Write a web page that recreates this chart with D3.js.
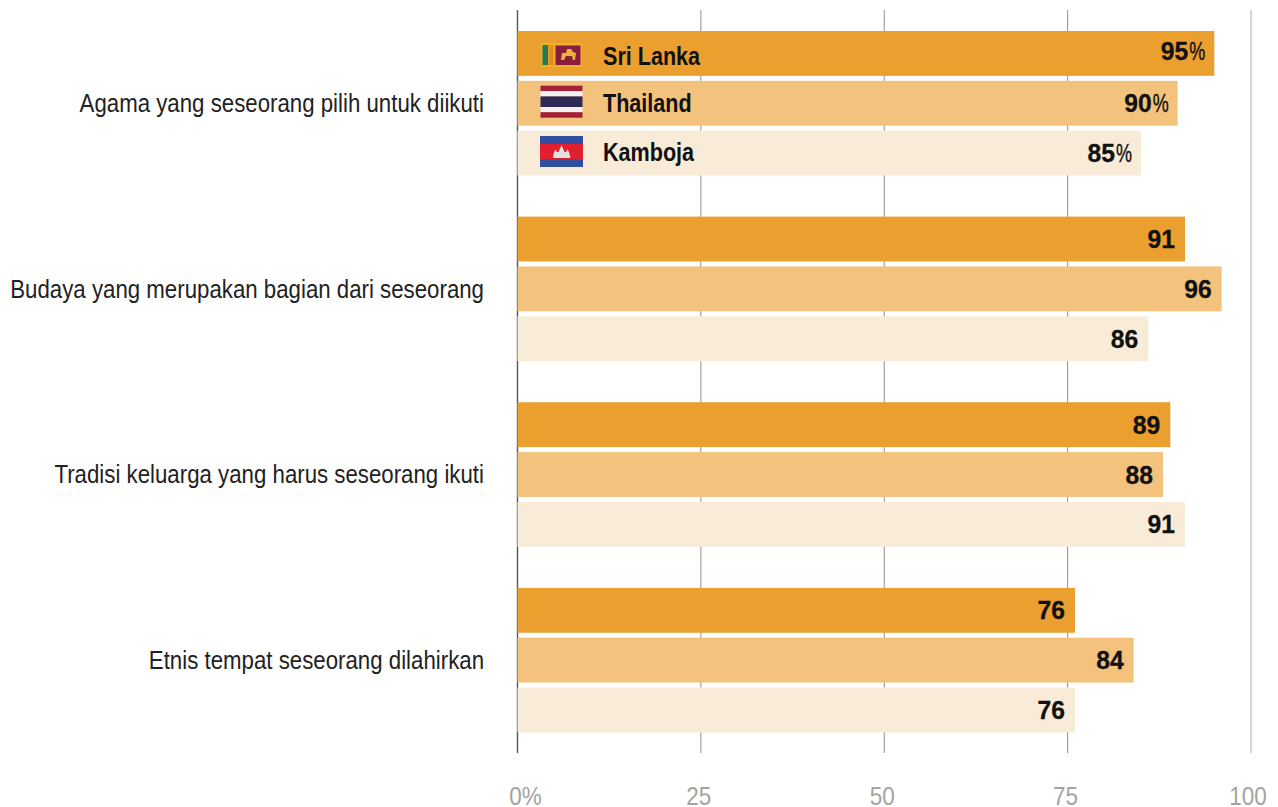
<!DOCTYPE html>
<html>
<head>
<meta charset="utf-8">
<script src="https://cdn.jsdelivr.net/npm/d3@7"></script>
<style>
html, body { margin: 0; padding: 0; background: #fff; overflow: hidden; }
text { font-family: "Liberation Sans", sans-serif; }
</style>
</head>
<body>
<div id="chart"></div>
<script>
var categories = [
    "Agama yang seseorang pilih untuk diikuti",
    "Budaya yang merupakan bagian dari seseorang",
    "Tradisi keluarga yang harus seseorang ikuti",
    "Etnis tempat seseorang dilahirkan"
];
var countries = ["Sri Lanka", "Thailand", "Kamboja"];
var sriLanka = [95, 91, 89, 76];
var thailand = [90, 96, 88, 84];
var kamboja = [85, 86, 91, 76];
var seriesValues = [sriLanka, thailand, kamboja];
var colors = ["#ea9f2e", "#f3c27d", "#f8ecd8"];
var ticks = [0, 25, 50, 75, 100];
var tickLabels = ["0%", "25", "50", "75", "100"];

var svg = d3.select("#chart").append("svg")
    .attr("width", 1278)
    .attr("height", 807);

var x = d3.scaleLinear().domain([0, 100]).range([517.5, 1251]);
var yGroup = d3.scaleBand().domain(categories).range([10.5, 753]);
var ySeries = d3.scaleBand().domain(countries).range([20.5, 165]).paddingInner(0.1);

// the report font is a narrow one, so squeeze Liberation Sans sideways
function squeeze(sel, px, py, k){
    return sel.attr("transform", function(d, i){
        return "translate(" + px(d, i) + "," + py(d, i) + ") scale(" + k + ",1)";
    });
}

// grid lines sit behind the bars
svg.append("g").selectAll("line")
    .data(ticks)
    .enter()
    .append("line")
    .attr("x1", function(d){ return x(d); })
    .attr("x2", function(d){ return x(d); })
    .attr("y1", 10)
    .attr("y2", 753)
    .attr("stroke", function(d){ return d == 0 ? "#555" : d == 100 ? "#aaa" : "#8f8f8f"; })
    .attr("stroke-width", function(d){ return d == 0 ? 1.4 : 1; });

squeeze(svg.append("g").selectAll("text")
    .data(ticks)
    .enter()
    .append("text")
    .attr("text-anchor", "middle")
    .attr("font-size", 25)
    .attr("fill", "#a3a3a3")
    .text(function(d, i){ return tickLabels[i]; }),
    function(d){ return x(d) + (d == 0 ? 8 : d == 100 ? -3 : -2); },
    function(){ return 805; },
    0.9);

var group = svg.append("g").selectAll("g")
    .data(categories)
    .enter()
    .append("g")
    .attr("transform", function(d){ return "translate(0," + yGroup(d) + ")"; });

squeeze(group.append("text")
    .attr("text-anchor", "end")
    .attr("font-size", 25.5)
    .attr("fill", "#222")
    .text(function(d){ return d; }),
    function(){ return 484; },
    function(){ return 101.5; },
    0.873);

countries.forEach(function(country, s){
    group.append("rect")
        .attr("x", x(0))
        .attr("y", ySeries(country))
        .attr("width", function(d, i){ return x(seriesValues[s][i]) - x(0); })
        .attr("height", ySeries.bandwidth())
        .attr("fill", colors[s]);

    // only the top row of values carries a percent sign
    function baseline(d, i){
        return ySeries(country) + ySeries.bandwidth() / 2 + (s == 0 && i == 0 ? 7 : 9);
    }
    function right(d, i){
        return x(seriesValues[s][i]) - (i == 0 ? 26 : 10);
    }

    squeeze(group.append("text")
        .attr("text-anchor", "end")
        .attr("font-size", 26)
        .attr("font-weight", "bold")
        .attr("fill", "#111")
        .attr("stroke", "#111")
        .attr("stroke-width", 0.3)
        .text(function(d, i){ return seriesValues[s][i]; }),
        right, baseline, 0.95);

    squeeze(group.filter(function(d, i){ return i == 0; })
        .append("text")
        .attr("text-anchor", "end")
        .attr("font-size", 25)
        .attr("fill", "#111")
        .attr("stroke", "#111")
        .attr("stroke-width", 0.4)
        .text("%"),
        function(){ return x(seriesValues[s][0]) - 9; },
        function(){ return baseline(null, 0); },
        0.72);
});

// legend lives inside the first group of bars
var first = group.filter(function(d, i){ return i == 0; });
var legendDrop = [11.5, 9, 8];
countries.forEach(function(country, s){
    squeeze(first.append("text")
        .attr("font-size", 26)
        .attr("font-weight", "bold")
        .attr("fill", "#111")
        .text(country),
        function(){ return 603; },
        function(){ return ySeries(country) + ySeries.bandwidth() / 2 + legendDrop[s]; },
        0.83);
});

function box(g, bx, by, w, h, fill){
    return g.append("rect").attr("x", bx).attr("y", by).attr("width", w).attr("height", h).attr("fill", fill);
}

var flags = svg.append("g");
var line = d3.line();

// Sri Lanka
box(flags, 541, 43, 41, 24, "#efb02c");
box(flags, 542.5, 45, 5.5, 20, "#1f7a55");
box(flags, 548.5, 45, 5, 20, "#e8891f");
box(flags, 555.5, 45.5, 25, 19.5, "#8a1d3e");
flags.append("path")
    .attr("d", line([[561, 60], [562, 53], [566, 53], [567, 49], [571, 49], [573, 52], [576, 53], [575, 60], [573, 60], [572, 56], [566, 56], [564, 60]]) + "Z")
    .attr("fill", "#e9b23c");

// Thailand
box(flags, 540.5, 85.7, 42, 5.5, "#a32038");
box(flags, 540.5, 91.2, 42, 5.2, "#f2f0f0");
box(flags, 540.5, 96.4, 42, 10.6, "#2d2a55");
box(flags, 540.5, 107, 42, 5.2, "#f2f0f0");
box(flags, 540.5, 112.2, 42, 5.5, "#a32038");

// Kamboja
box(flags, 540, 136, 43, 31, "#2f4ea0");
box(flags, 540, 144, 43, 15.5, "#e0202f");
flags.append("path")
    .attr("d", line([[553, 158], [554, 152], [555.5, 149.5], [557, 152], [558.5, 152], [561.5, 145], [564.5, 152], [566, 152], [567.5, 149.5], [569, 152], [570.5, 158]]) + "Z")
    .attr("fill", "#e4e0dc");
</script>
</body>
</html>
